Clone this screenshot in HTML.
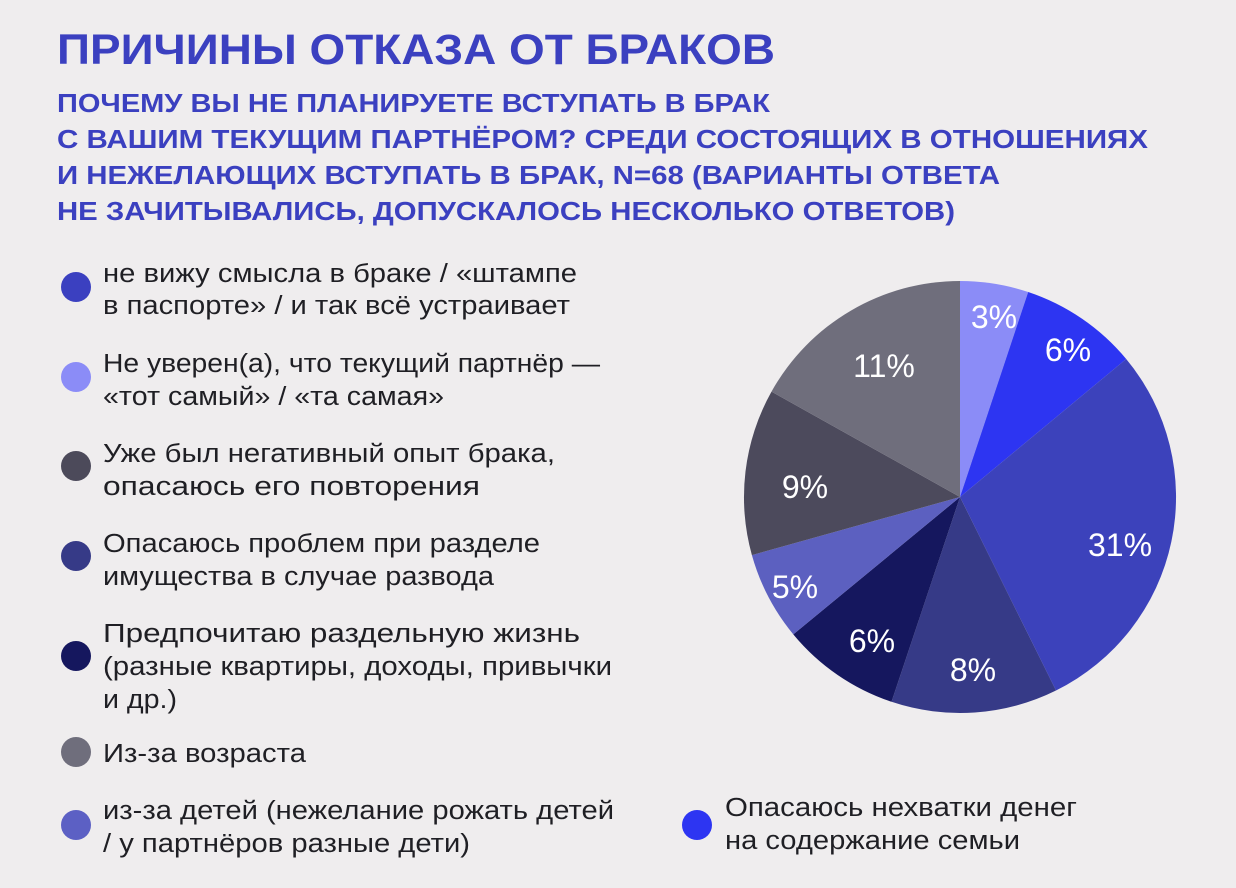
<!DOCTYPE html>
<html><head><meta charset="utf-8"><style>
html,body{margin:0;padding:0;background:#efedee;}
svg{display:block;}
.t{font-family:"Liberation Sans",sans-serif;font-weight:bold;fill:#3b40c0;}
.l{font-family:"Liberation Sans",sans-serif;font-size:25.5px;fill:#1f1f24;}
.p{font-family:"Liberation Sans",sans-serif;font-size:32px;fill:#fff;text-anchor:middle;}
</style></head><body>
<svg width="1236" height="888" viewBox="0 0 1236 888" xmlns="http://www.w3.org/2000/svg">
<rect width="1236" height="888" fill="#efedee"/>
<text class="t" x="57" y="64" font-size="43" textLength="718" lengthAdjust="spacingAndGlyphs">ПРИЧИНЫ ОТКАЗА ОТ БРАКОВ</text>
<text class="t" x="57" y="112" font-size="26" textLength="713" lengthAdjust="spacingAndGlyphs">ПОЧЕМУ ВЫ НЕ ПЛАНИРУЕТЕ ВСТУПАТЬ В БРАК</text>
<text class="t" x="57" y="148" font-size="26" textLength="1091" lengthAdjust="spacingAndGlyphs">С ВАШИМ ТЕКУЩИМ ПАРТНЁРОМ? СРЕДИ СОСТОЯЩИХ В ОТНОШЕНИЯХ</text>
<text class="t" x="57" y="184" font-size="26" textLength="943" lengthAdjust="spacingAndGlyphs">И НЕЖЕЛАЮЩИХ ВСТУПАТЬ В БРАК, N=68 (ВАРИАНТЫ ОТВЕТА</text>
<text class="t" x="57" y="220" font-size="26" textLength="898" lengthAdjust="spacingAndGlyphs">НЕ ЗАЧИТЫВАЛИСЬ, ДОПУСКАЛОСЬ НЕСКОЛЬКО ОТВЕТОВ)</text>

<circle cx="76" cy="287" r="15" fill="#3b40c0"/>
<text class="l" x="103" y="282" textLength="474" lengthAdjust="spacingAndGlyphs">не вижу смысла в браке / «штампе</text>
<text class="l" x="103" y="314" textLength="467" lengthAdjust="spacingAndGlyphs">в паспорте» / и так всё устраивает</text>

<circle cx="76" cy="377" r="15" fill="#8b8cf7"/>
<text class="l" x="103" y="372" textLength="497" lengthAdjust="spacingAndGlyphs">Не уверен(а), что текущий партнёр —</text>
<text class="l" x="103" y="405" textLength="341" lengthAdjust="spacingAndGlyphs">«тот самый» / «та самая»</text>

<circle cx="76" cy="466" r="15" fill="#4c4a5a"/>
<text class="l" x="103" y="462" textLength="452" lengthAdjust="spacingAndGlyphs">Уже был негативный опыт брака,</text>
<text class="l" x="103" y="495" textLength="377" lengthAdjust="spacingAndGlyphs">опасаюсь его повторения</text>

<circle cx="76" cy="556" r="15" fill="#363a87"/>
<text class="l" x="103" y="552" textLength="437" lengthAdjust="spacingAndGlyphs">Опасаюсь проблем при разделе</text>
<text class="l" x="103" y="585" textLength="391" lengthAdjust="spacingAndGlyphs">имущества в случае развода</text>

<circle cx="76" cy="656" r="15" fill="#15175e"/>
<text class="l" x="103" y="642" textLength="477" lengthAdjust="spacingAndGlyphs">Предпочитаю раздельную жизнь</text>
<text class="l" x="103" y="675" textLength="509" lengthAdjust="spacingAndGlyphs">(разные квартиры, доходы, привычки</text>
<text class="l" x="103" y="708" textLength="74" lengthAdjust="spacingAndGlyphs">и др.)</text>

<circle cx="76" cy="752" r="15" fill="#6f6e7c"/>
<text class="l" x="103" y="762" textLength="203" lengthAdjust="spacingAndGlyphs">Из-за возраста</text>

<circle cx="76" cy="825" r="15" fill="#5c60c4"/>
<text class="l" x="103" y="819" textLength="511" lengthAdjust="spacingAndGlyphs">из-за детей (нежелание рожать детей</text>
<text class="l" x="103" y="852" textLength="367" lengthAdjust="spacingAndGlyphs">/ у партнёров разные дети)</text>

<circle cx="697" cy="825" r="15" fill="#2d35f2"/>
<text class="l" x="725" y="816" textLength="352" lengthAdjust="spacingAndGlyphs">Опасаюсь нехватки денег</text>
<text class="l" x="725" y="849" textLength="295" lengthAdjust="spacingAndGlyphs">на содержание семьи</text>

<g>
<path d="M960,497 L960,281 A216,216 0 0 1 1028.2,292 Z" fill="#8b8cf7"/>
<path d="M960,497 L1028.2,292 A216,216 0 0 1 1126.2,359 Z" fill="#2d35f2"/>
<path d="M960,497 L1126.2,359 A216,216 0 0 1 1056,690.5 Z" fill="#3c42bb"/>
<path d="M960,497 L1056,690.5 A216,216 0 0 1 891.5,701.8 Z" fill="#363a87"/>
<path d="M960,497 L891.5,701.8 A216,216 0 0 1 793.3,634.4 Z" fill="#15175e"/>
<path d="M960,497 L793.3,634.4 A216,216 0 0 1 751.9,555.1 Z" fill="#5c60c0"/>
<path d="M960,497 L751.9,555.1 A216,216 0 0 1 771.5,391.6 Z" fill="#4c4a5c"/>
<path d="M960,497 L771.5,391.6 A216,216 0 0 1 960,281 Z" fill="#6f6e7c"/>
</g>
<text class="p" x="994" y="328">3%</text>
<text class="p" x="1068" y="361">6%</text>
<text class="p" x="1120" y="556">31%</text>
<text class="p" x="973" y="681">8%</text>
<text class="p" x="872" y="652">6%</text>
<text class="p" x="795" y="598">5%</text>
<text class="p" x="805" y="498">9%</text>
<text class="p" x="884" y="377">11%</text>
</svg>
</body></html>
